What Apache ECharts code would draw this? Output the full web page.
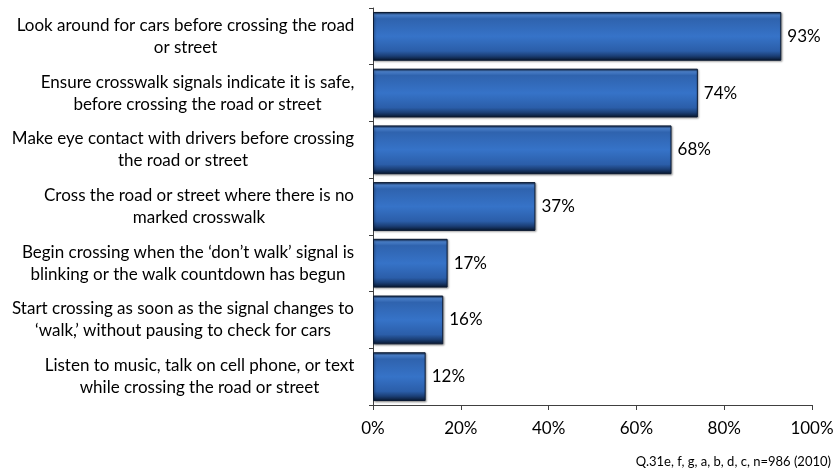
<!DOCTYPE html>
<html>
<head>
<meta charset="utf-8">
<script src="https://cdn.jsdelivr.net/npm/echarts@6/dist/echarts.min.js"></script>
<style>
  html, body { margin: 0; padding: 0; background: #ffffff; }
  #chart { width: 837px; height: 473px; }
</style>
</head>
<body>
<div id="chart"></div>
<script>
// Pedestrian behaviours, listed top to bottom
const categories = [
  "Look around for cars before crossing the road\nor street",
  "Ensure crosswalk signals indicate it is safe,\nbefore crossing the road or street",
  "Make eye contact with drivers before crossing\nthe road or street",
  "Cross the road or street where there is no\nmarked crosswalk",
  "Begin crossing when the \u2018don\u2019t walk\u2019 signal is\nblinking or the walk countdown has begun",
  "Start crossing as soon as the signal changes to\n\u2018walk,\u2019 without pausing to check for cars",
  "Listen to music, talk on cell phone, or text\nwhile crossing the road or street"
];
// Share of respondents (%)
const values = [93, 74, 68, 37, 17, 16, 12];
const xTicks = [0, 20, 40, 60, 80, 100];
const footnote = "Q.31e, f, g, a, b, d, c, n=986 (2010)";

const FONT = "Lato";
const FONT_SIZE = 17;

// Each label block is centred on its own widest line, with the block right-aligned to the axis
const ctx = document.createElement("canvas").getContext("2d");
ctx.font = FONT_SIZE + "px " + FONT;
const rich = {};
categories.forEach((c, i) => {
  const w = Math.max(...c.split("\n").map(l => ctx.measureText(l).width));
  rich["l" + i] = { width: Math.ceil(w) + 1, align: "center", fontFamily: FONT, fontSize: FONT_SIZE, color: "#000", lineHeight: 22 };
});

const barFill = new echarts.graphic.LinearGradient(0, 0, 0, 1, [
  { offset: 0.00, color: "#10284c" },
  { offset: 0.06, color: "#4a7fc9" },
  { offset: 0.14, color: "#2f63ae" },
  { offset: 0.50, color: "#3673c8" },
  { offset: 0.80, color: "#2b5ea9" },
  { offset: 0.90, color: "#1b3f76" },
  { offset: 1.00, color: "#07152b" }
]);

const chart = echarts.init(document.getElementById("chart"), null, { renderer: "canvas" });
chart.setOption({
  backgroundColor: "#ffffff",
  animation: false,
  grid: { left: 373, right: 25, top: 8, bottom: 68, containLabel: false },
  xAxis: {
    type: "value",
    min: 0, max: 100, interval: 20,
    splitLine: { show: false },
    axisLine: { show: true, lineStyle: { color: "#404040", width: 1 } },
    axisTick: { show: true, length: 5, lineStyle: { color: "#404040" } },
    axisLabel: {
      margin: 15,
      fontFamily: FONT, fontSize: FONT_SIZE, color: "#000",
      formatter: v => (xTicks.includes(v) ? v + "%" : "")
    }
  },
  yAxis: {
    type: "category",
    inverse: true,
    data: categories,
    axisLine: { show: true, lineStyle: { color: "#404040", width: 1 } },
    axisTick: { show: true, length: 4, lineStyle: { color: "#404040" } },
    axisLabel: {
      margin: 18,
      align: "right",
      rich: rich,
      formatter: (val, idx) => val.split("\n").map(l => "{l" + idx + "|" + l + "}").join("\n")
    }
  },
  series: [{
    type: "bar",
    data: values,
    barCategoryGap: "14%",
    itemStyle: {
      color: barFill,
      borderColor: "#0b1a33",
      borderWidth: 1,
      shadowColor: "rgba(0,0,0,0.35)",
      shadowBlur: 2,
      shadowOffsetX: 1,
      shadowOffsetY: 1
    },
    label: {
      show: true,
      position: "right",
      distance: 6,
      formatter: p => p.value + "%",
      fontFamily: FONT, fontSize: FONT_SIZE, color: "#000"
    }
  }],
  graphic: [{
    type: "text",
    right: 6, top: 455,
    style: { text: footnote, fontFamily: FONT, fontSize: 13, fill: "#000" }
  }]
});
</script>
</body>
</html>
